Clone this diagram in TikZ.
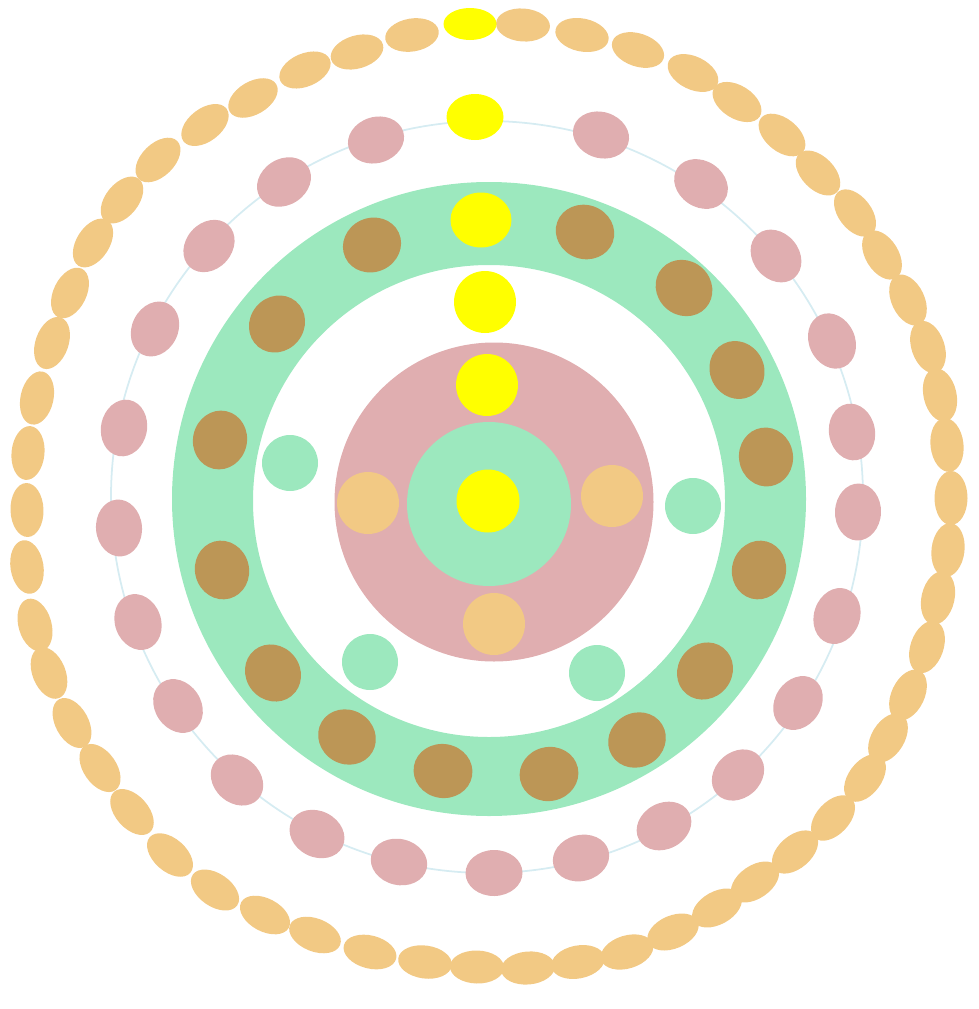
\documentclass[tikz,border=0pt]{standalone}
\definecolor{beadorange}{RGB}{242, 201, 132}
\definecolor{beadpink}{RGB}{224, 174, 176}
\definecolor{ringgreen}{RGB}{156, 232, 190}
\definecolor{beadbrown}{RGB}{188, 150, 86}
\definecolor{beadyellow}{RGB}{255, 255, 0}
\definecolor{threadblue}{RGB}{214, 236, 242}
\usepackage{tikz}

\begin{document}
\begin{tikzpicture}[x=0.01cm, y=-0.01cm]
      \useasboundingbox (0,0) rectangle (979,1009);
      \draw[threadblue, line width=0.5pt] (487,497) circle (376);
      \foreach \bx/\by in {376/140, 284/182, 209/246, 155/329, 124/428, 119/528, 138/622, 178/706, 237/780, 317/834, 399/862, 494/873, 581/858, 664/826, 738/775, 798/703, 837/616, 858/512, 852/432, 832/341, 776/256, 701/184, 601/135}{
        \pgfmathsetmacro{\ang}{atan2(497-\by, \bx-487)}
        \fill[beadpink, shift={(\bx,\by)}, rotate=\ang] (0,0) ellipse (23 and 28.5);
      }
      \fill[beadyellow] (475,117) ellipse (28.5 and 23);
      \fill[ringgreen, even odd rule] (489,499) circle (317) (489,501) circle (236);
      \foreach \bx/\by in {372/245, 277/324, 220/440, 222/570, 273/673, 347/737, 443/771, 549/774, 637/740, 705/671, 759/570, 766/457, 737/370, 684/288, 585/232}{
        \pgfmathsetmacro{\ang}{atan2(499-\by, \bx-489)}
        \fill[beadbrown, shift={(\bx,\by)}, rotate=\ang] (0,0) ellipse (27 and 29.5);
      }
      \fill[beadyellow] (481,220) ellipse (30.5 and 27.5);
      \fill[beadpink] (494,502) circle (159.5);
      \fill[ringgreen] (489,504) circle (82);
      \fill[beadyellow] (488,501) circle (31.5);
      \fill[beadyellow] (487,385) circle (31);
      \fill[beadyellow] (485,302) circle (31);
      \foreach \bx/\by in {368/503, 612/496, 494/624}
        \fill[beadorange] (\bx,\by) circle (31);
      \foreach \bx/\by in {290/463, 370/662, 597/673, 693/506}
        \fill[ringgreen] (\bx,\by) circle (28);
      \foreach \bx/\by in {412/35, 357/52, 305/70, 253/98, 205/125, 158/160, 122/200, 93/243, 70/293, 52/343, 37/398, 28/453, 27/510, 27/567, 35/625, 49/673, 72/723, 100/768, 132/812, 170/855, 215/890, 265/915, 315/935, 370/952, 425/962, 477/967, 528/968, 578/962, 627/952, 673/932, 717/908, 755/882, 795/852, 833/818, 865/778, 888/738, 908/695, 927/647, 938/598, 948/550, 951/498, 947/445, 940/395, 928/347, 908/300, 882/255, 855/213, 818/173, 782/135, 737/102, 693/73, 638/50, 582/35, 523/25}{
        \pgfmathsetmacro{\ang}{atan2(496-\by, \bx-488)}
        \fill[beadorange, shift={(\bx,\by)}, rotate=\ang] (0,0) ellipse (16.5 and 27);
      }
      \fill[beadyellow] (470,24) ellipse (26.5 and 16);
    \end{tikzpicture}
\end{document}
